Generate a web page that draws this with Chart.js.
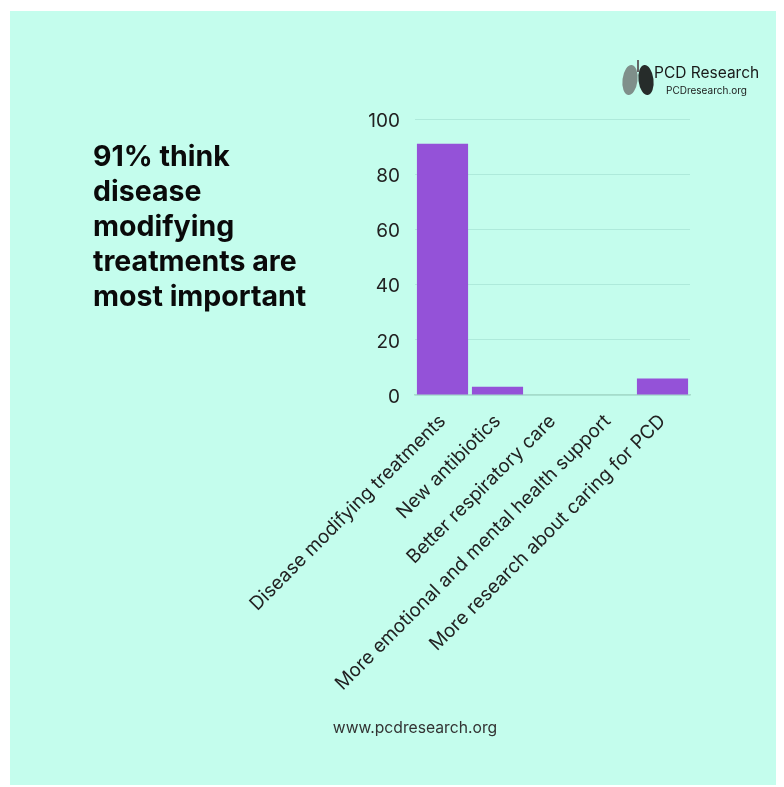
<!DOCTYPE html>
<html>
<head>
<meta charset="utf-8">
<script src="https://cdn.jsdelivr.net/npm/chart.js@4.4.0/dist/chart.umd.min.js"></script>
<style>
  html, body { margin: 0; padding: 0; background: #ffffff; }
  #wrap { position: relative; width: 784px; height: 787px; }
</style>
</head>
<body>
<div id="wrap"><canvas id="chart" width="784" height="787"></canvas></div>
<script>
// survey answers
const categories = [
  "Disease modifying treatments",
  "New antibiotics",
  "Better respiratory care",
  "More emotional and mental health support",
  "More research about caring for PCD"
];
const percentages = [91, 3, 0, 0, 6];
const yMax = 100;
const yStep = 20;

const headline = ["91% think", "disease", "modifying", "treatments are", "most important"];

const panelColor = "#c4fded";
const barColor = "#9452d8";

// background panel, headline, logo and footer
const decor = {
  id: "decor",
  beforeDraw(chart) {
    const ctx = chart.ctx;
    ctx.save();
    ctx.fillStyle = "#ffffff";
    ctx.fillRect(0, 0, chart.width, chart.height);
    ctx.fillStyle = panelColor;
    ctx.fillRect(10, 11, 766, 774);

    // headline
    ctx.fillStyle = "#0a0a0a";
    ctx.font = "bold 28.5px Inter";
    ctx.textBaseline = "alphabetic";
    ctx.textAlign = "left";
    for (let i = 0; i < headline.length; i++) {
      ctx.fillText(headline[i], 93, 166 + i * 35);
    }

    // logo lungs
    drawLung(ctx, 630, 80, "#7f8f8a", -1);
    drawLung(ctx, 646, 80, "#262c2a", 1);
    ctx.strokeStyle = "#666";
    ctx.lineWidth = 2;
    ctx.beginPath();
    ctx.moveTo(638, 60); ctx.lineTo(638, 72);
    ctx.stroke();

    ctx.fillStyle = "#1a1a1a";
    ctx.font = "15.5px Inter";
    ctx.fillText("PCD Research", 654, 78);
    ctx.font = "10px Inter";
    ctx.fillText("PCDresearch.org", 666, 94);

    // footer
    ctx.fillStyle = "#333333";
    ctx.font = "15.7px Inter";
    ctx.textAlign = "center";
    ctx.fillText("www.pcdresearch.org", 415, 733);
    ctx.restore();
  }
};

function drawLung(ctx, cx, cy, color, side) {
  ctx.save();
  ctx.fillStyle = color;
  ctx.beginPath();
  ctx.ellipse(cx, cy, 7.5, 15, side * -0.12, 0, Math.PI * 2);
  ctx.fill();
  ctx.restore();
}

new Chart(document.getElementById("chart"), {
  type: "bar",
  data: {
    labels: categories,
    datasets: [{
      data: percentages,
      backgroundColor: barColor,
      borderWidth: 0,
      categoryPercentage: 1.0,
      barPercentage: 0.93
    }]
  },
  options: {
    responsive: false,
    animation: false,
    layout: { padding: { left: 0, top: 119, right: 94, bottom: 0 } },
    plugins: {
      legend: { display: false },
      tooltip: { enabled: false }
    },
    scales: {
      x: {
        grid: { display: false },
        border: { display: true, color: "#a6dccb", width: 1.5 },
        ticks: {
          color: "#222222",
          font: { family: "Inter", size: 19 },
          minRotation: 45,
          maxRotation: 45,
          padding: 7
        },
        afterFit(scale) { scale.height = 787 - 395; }
      },
      y: {
        min: 0,
        max: yMax,
        border: { display: false },
        grid: { color: "#aeeadb", drawTicks: false, lineWidth: 1 },
        ticks: {
          stepSize: yStep,
          color: "#222222",
          font: { family: "Inter", size: 19 },
          padding: 15,
          labelOffset: 2
        },
        afterFit(scale) { scale.width = 415; }
      }
    }
  },
  plugins: [decor]
});
</script>
</body>
</html>
